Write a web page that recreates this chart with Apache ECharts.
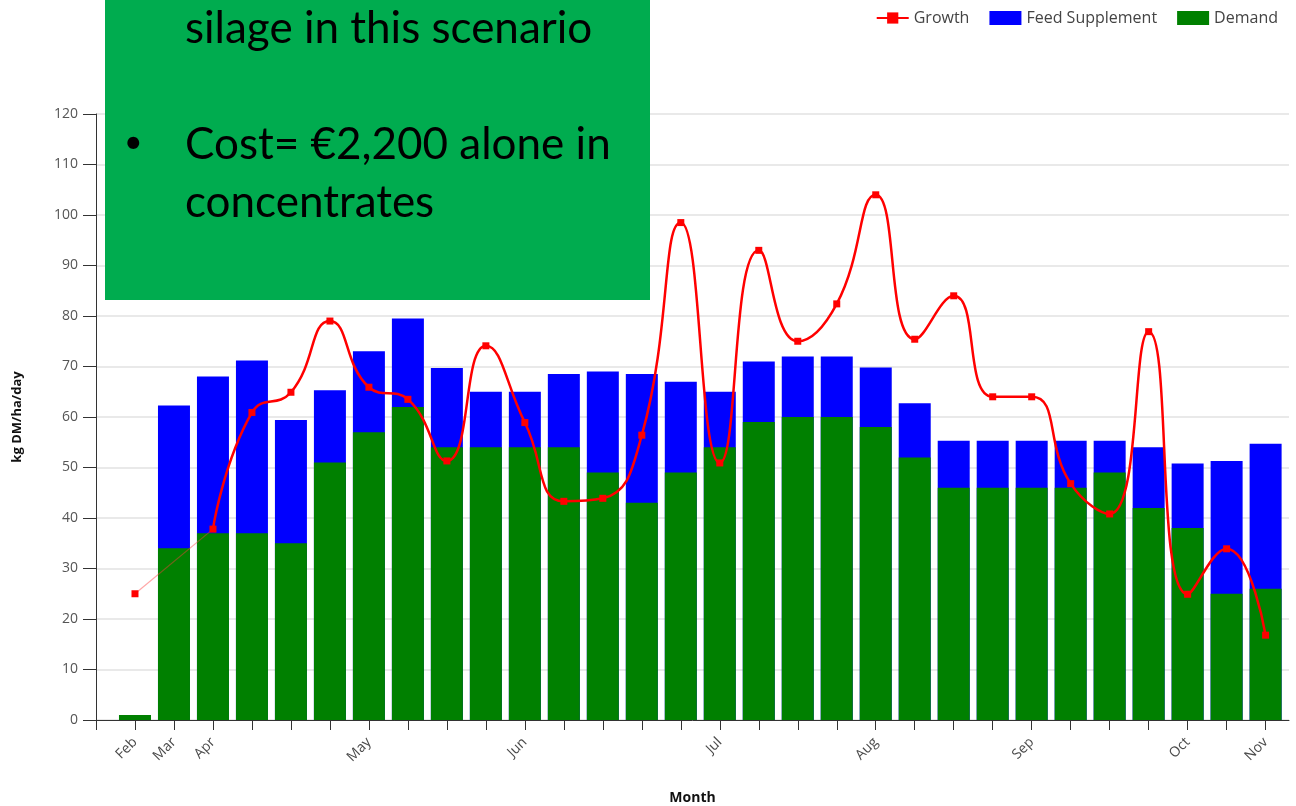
<!DOCTYPE html>
<html>
<head>
<meta charset="utf-8">
<script src="https://cdn.jsdelivr.net/npm/echarts@6/dist/echarts.min.js"></script>
<style>
  html, body { margin: 0; padding: 0; background: #fff; }
  #main { width: 1296px; height: 806px; }
</style>
</head>
<body>
<div id="main"></div>
<script>
// weekly points, month name shown on the first week of each month
const weekLabels = ['Feb','Mar','Apr','','','','May','','','','Jun','','','','','Jul','','','','Aug','','','','Sep','','','','Oct','','Nov'];
const demand = [1,34,37,37,35,51,57,62,54,54,54,54,49,43,49,54,59,60,60,58,52,46,46,46,46,49,42,38,25,26];
const feedSupplement = [0,28.3,31,34.2,24.4,14.3,16,17.5,15.7,11,11,14.5,20,25.5,18,11,12,12,12,11.8,10.7,9.3,9.3,9.3,9.3,6.3,12,12.8,26.3,28.7];
const growth = [25,null,37.8,60.9,64.9,79,65.9,63.5,51.3,74.1,58.9,43.3,43.9,56.4,98.5,50.9,93,75,82.4,104,75.4,84,64,64,46.8,40.8,76.9,24.9,33.9,16.8];
const noteLines = ['silage in this scenario', 'Cost= \u20ac2,200 alone in', 'concentrates'];

const font = 'Open Sans';
const chart = echarts.init(document.getElementById('main'));

const tickPos = [0].concat(weekLabels.map((l, i) => i + 1));
const labelPos = weekLabels.map((l, i) => (l ? i + 1 : null)).filter(v => v !== null);

// supplement sits on top of demand: draw the total behind the demand bar
const supplementTop = feedSupplement.map((v, i) => [i + 1, demand[i] + v]);

// the pale link from Feb to the first full week of growth data
const growthGap = growth.map((v, i) => (i <= 2 ? v : null));

const option = {
  animation: false,
  textStyle: { fontFamily: font },
  grid: { left: 96, right: 7, top: 114, bottom: 86, containLabel: false, outerBoundsMode: 'none' },
  legend: {
    top: 5, right: 13,
    itemWidth: 32, itemHeight: 14, itemGap: 20,
    textStyle: { fontSize: 16, color: '#444', fontFamily: font },
    data: [
      { name: 'Growth' },
      { name: 'Feed Supplement', icon: 'rect' },
      { name: 'Demand', icon: 'rect' }
    ]
  },
  xAxis: {
    type: 'value', min: 0, max: 30.6, interval: 1,
    name: 'Month', nameLocation: 'middle', nameGap: 71,
    nameTextStyle: { fontWeight: 'bold', fontSize: 14, color: '#111', fontFamily: font },
    axisLine: { show: true, onZero: false, lineStyle: { color: '#333' } },
    axisTick: { show: true, length: 10, lineStyle: { color: '#333' }, customValues: tickPos },
    axisLabel: {
      customValues: labelPos, rotate: 45, margin: 20,
      fontSize: 14, color: '#4a4a4a', fontFamily: font,
      formatter: v => weekLabels[v - 1] || ''
    },
    splitLine: { show: false }
  },
  yAxis: {
    type: 'value', min: 0, max: 120, interval: 10,
    name: 'kg DM/ha/day', nameLocation: 'middle', nameGap: 72,
    nameTextStyle: { fontWeight: 'bold', fontSize: 13, color: '#111', fontFamily: font },
    axisLine: { show: true, onZero: false, lineStyle: { color: '#333' } },
    axisTick: { show: true, length: 13, lineStyle: { color: '#333' } },
    axisLabel: { fontSize: 14, color: '#555', margin: 18, fontFamily: font },
    splitLine: { show: true, lineStyle: { color: '#e2e2e2', width: 1.5 } }
  },
  series: [
    {
      name: 'Feed Supplement', type: 'bar', barWidth: 32, barGap: '-100%',
      itemStyle: { color: '#0000ff' },
      data: supplementTop
    },
    {
      name: 'Demand', type: 'bar', barWidth: 32, barGap: '-100%',
      itemStyle: { color: '#008000' },
      data: demand.map((v, i) => [i + 1, v])
    },
    {
      name: 'growth-gap', type: 'line', smooth: 0.5, connectNulls: true,
      showSymbol: false, symbol: 'none', z: 3,
      lineStyle: { color: 'rgba(255,60,60,0.45)', width: 1.2 },
      data: growthGap.map((v, i) => [i + 1, v])
    },
    {
      name: 'Growth', type: 'line', smooth: 0.5, z: 4,
      symbol: 'rect', symbolSize: 7,
      itemStyle: { color: '#ff0000' },
      lineStyle: { color: '#ff0000', width: 2.5 },
      data: growth.map((v, i) => [i + 1, v])
    }
  ],
  graphic: [
    { type: 'rect', x: 105, y: -5, z: 100, shape: { width: 545, height: 305 }, style: { fill: '#00ac4f' } },
    { type: 'text', x: 185, y: 29, z: 101, style: { text: noteLines[0], font: '44px Lato', fill: '#000', verticalAlign: 'middle' } },
    { type: 'text', x: 124, y: 143, z: 101, style: { text: '\u2022', font: '32px Lato', fill: '#000', verticalAlign: 'middle' } },
    { type: 'text', x: 185, y: 145, z: 101, style: { text: noteLines[1], font: '44px Lato', fill: '#000', verticalAlign: 'middle' } },
    { type: 'text', x: 185, y: 203, z: 101, style: { text: noteLines[2], font: '44px Lato', fill: '#000', verticalAlign: 'middle' } }
  ]
};

chart.setOption(option);
</script>
</body>
</html>
